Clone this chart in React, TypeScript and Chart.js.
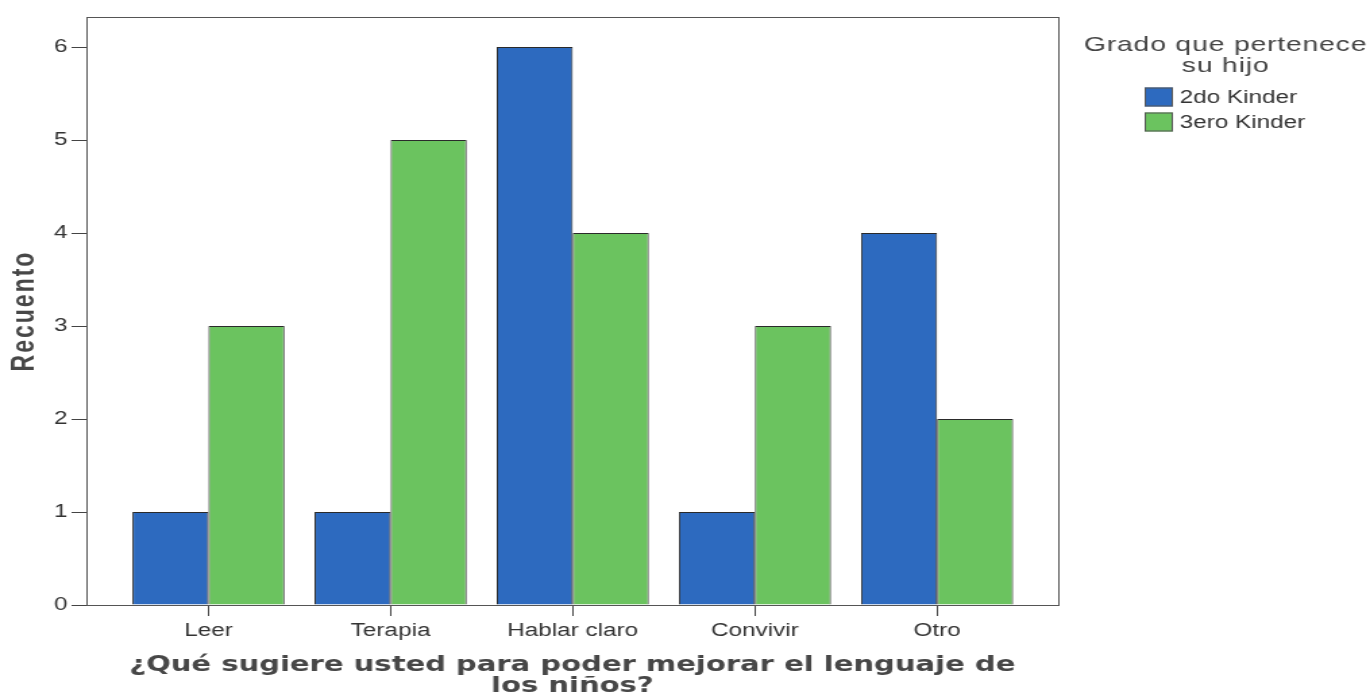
import React, { useEffect, useRef } from 'react';
import { Chart, registerables } from 'chart.js';

Chart.register(...registerables);

const CATEGORIES = ['Leer', 'Terapia', 'Hablar claro', 'Convivir', 'Otro'];
const SERIES_NAMES = ['2do Kinder', '3ero Kinder'];
const KINDER_2 = [1, 1, 6, 1, 4];
const KINDER_3 = [3, 5, 4, 3, 2];
const Y_TICKS = [0, 1, 2, 3, 4, 5, 6];
const X_TITLE = ['¿Qué sugiere usted para poder mejorar el lenguaje de', 'los niños?'];
const Y_TITLE = 'Recuento';
const LEGEND_TITLE = ['Grado que pertenece', 'su hijo'];
const COLORS = ['#2d6abf', '#6bc35f'];

const W = 1015;
const H = 698;
const CSS_W = 1370;

const framePlugin = {
  id: 'frame',
  afterDatasetsDraw(chart: any) {
    const { ctx, chartArea: a } = chart;
    ctx.save();
    ctx.strokeStyle = '#555';
    ctx.lineWidth = 1;
    ctx.strokeRect(Math.round(a.left) + 0.5, Math.round(a.top) + 0.5, Math.round(a.right - a.left), Math.round(a.bottom - a.top));
    ctx.restore();
  },
};

const textPlugin = {
  id: 'texts',
  afterDraw(chart: any) {
    const { ctx, chartArea: a } = chart;
    ctx.save();
    // x axis title
    ctx.fillStyle = '#474747';
    ctx.textAlign = 'center';
    ctx.textBaseline = 'middle';
    ctx.font = 'bold 21.5px "DejaVu Sans"';
    (ctx as any).letterSpacing = '0px';
    X_TITLE.forEach((line, i) => {
      ctx.fillText(line, (a.left + a.right) / 2, a.bottom + 60 + i * 21);
    });
    // y axis title
    ctx.save();
    ctx.translate(18.5, (a.top + a.bottom) / 2);
    ctx.rotate(-Math.PI / 2);
    ctx.font = 'bold 23px "Liberation Sans"';
    (ctx as any).letterSpacing = '2px';
    ctx.fillText(Y_TITLE, 0, 0);
    ctx.restore();
    // legend
    const cx = a.right + 124;
    ctx.fillStyle = '#444';
    ctx.font = '21px "Liberation Sans"';
    (ctx as any).letterSpacing = '0.6px';
    LEGEND_TITLE.forEach((line, i) => {
      ctx.fillText(line, cx, 45 + i * 21);
    });
    (ctx as any).letterSpacing = '0px';
    ctx.font = '18px "Liberation Sans"';
    ctx.textAlign = 'left';
    chart.data.datasets.forEach((ds: any, i: number) => {
      const yc = 97 + i * 25;
      const bx = a.right + 64;
      ctx.fillStyle = ds.backgroundColor;
      ctx.fillRect(bx, yc - 9.5, 21, 19);
      ctx.strokeStyle = '#555';
      ctx.lineWidth = 1;
      ctx.strokeRect(bx + 0.5, yc - 9, 20, 18);
      ctx.fillStyle = '#333';
      ctx.fillText(ds.label, bx + 26, yc + 1);
    });
    ctx.restore();
  },
};

export default function App() {
  const ref = useRef<HTMLCanvasElement>(null);

  useEffect(() => {
    document.body.style.margin = '0';
    const canvas = ref.current;
    if (!canvas) return;
    const chart = new Chart(canvas, {
      type: 'bar',
      data: {
        datasets: [
          {
            label: SERIES_NAMES[0],
            data: KINDER_2.map((y, i) => ({ x: i, y })),
            backgroundColor: COLORS[0],
            borderColor: '#2a2a2a',
            borderWidth: 1,
            categoryPercentage: 0.835,
            barPercentage: 1,
          },
          {
            label: SERIES_NAMES[1],
            data: KINDER_3.map((y, i) => ({ x: i, y })),
            backgroundColor: COLORS[1],
            borderColor: '#2a2a2a',
            borderWidth: 1,
            categoryPercentage: 0.835,
            barPercentage: 1,
          },
        ],
      } as any,
      options: {
        responsive: false,
        animation: false,
        devicePixelRatio: 1,
        layout: { padding: { top: 17, right: 231, left: 0, bottom: 0 } },
        plugins: { legend: { display: false }, tooltip: { enabled: false }, title: { display: false } },
        scales: {
          x: {
            type: 'linear',
            min: -0.67,
            max: 4.665,
            offset: false,
            afterBuildTicks: (s: any) => {
              s.ticks = CATEGORIES.map((_, i) => ({ value: i }));
            },
            afterFit: (s: any) => {
              s.height = 93;
            },
            grid: { display: true, drawOnChartArea: false, drawTicks: true, tickLength: 11, color: '#444', offset: false },
            border: { display: true, color: '#444', width: 1 },
            ticks: {
              autoSkip: false,
              maxRotation: 0,
              padding: 4,
              color: '#333',
              font: { family: 'Liberation Sans', size: 18 },
              callback: (_v: any, i: number) => CATEGORIES[i] ?? '',
            },
          },
          y: {
            type: 'linear',
            min: 0,
            max: 6.3226,
            afterBuildTicks: (s: any) => {
              s.ticks = Y_TICKS.map((v) => ({ value: v }));
            },
            afterFit: (s: any) => {
              s.width = 64;
            },
            grid: { display: true, drawOnChartArea: false, drawTicks: true, tickLength: 11, color: '#444' },
            border: { display: true, color: '#444', width: 1 },
            ticks: {
              padding: 3,
              color: '#333',
              font: { family: 'Liberation Sans', size: 18 },
              callback: (v: any) => String(v),
            },
          },
        },
      } as any,
      plugins: [framePlugin, textPlugin],
    });
    return () => chart.destroy();
  }, []);

  return (
    <div style={{ width: CSS_W, height: H, overflow: 'hidden', background: '#fff' }}>
      <canvas ref={ref} width={W} height={H} style={{ width: CSS_W + 'px', height: H + 'px', display: 'block' }} />
    </div>
  );
}
